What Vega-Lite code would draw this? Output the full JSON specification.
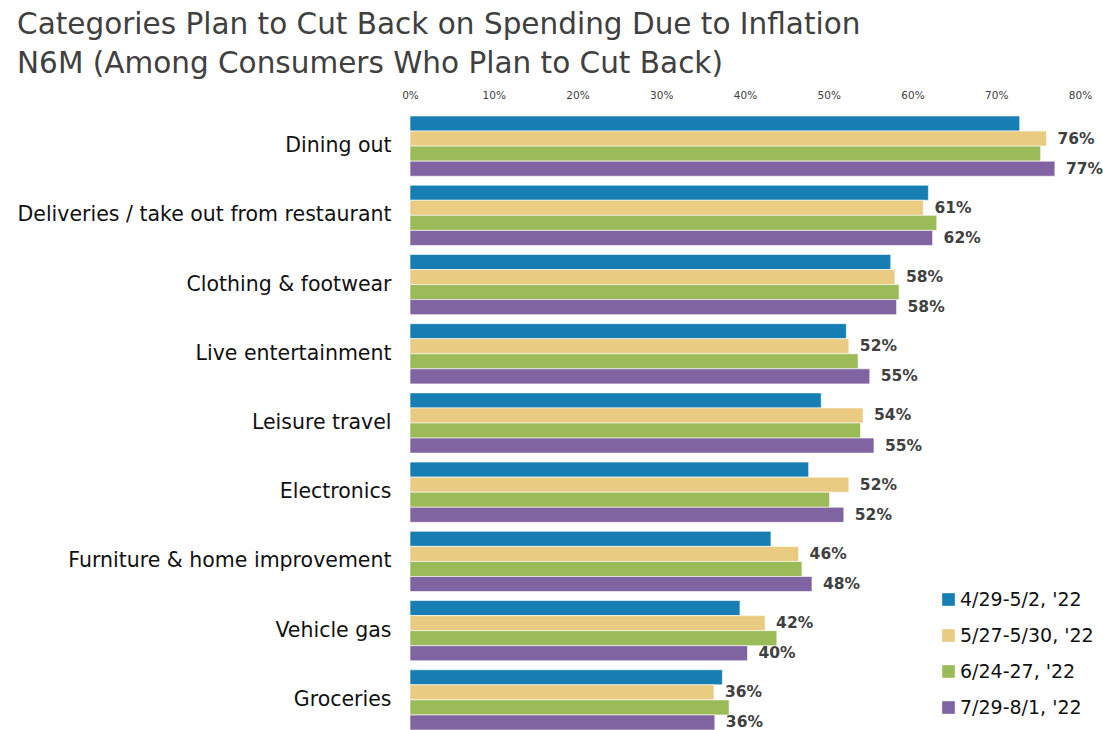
{
  "$schema": "https://vega.github.io/schema/vega-lite/v6.json",
  "autosize": {"type": "none"},
  "width": 670,
  "height": 614,
  "padding": {"top": 116, "left": 410, "right": 23, "bottom": 0},
  "background": "white",
  "config": {"view": {"stroke": null}},
  "title": {
    "text": ["Categories Plan to Cut Back on Spending Due to Inflation", "N6M (Among Consumers Who Plan to Cut Back)"],
    "anchor": "start",
    "frame": "bounds",
    "font": "DejaVu Sans",
    "fontSize": 29.5,
    "fontWeight": "normal",
    "color": "#404040",
    "lineHeight": 38.5,
    "offset": 11
  },
  "data": {
    "values": [
      {"category": "Dining out", "period": "4/29-5/2, '22", "value": 0.728},
      {"category": "Dining out", "period": "5/27-5/30, '22", "value": 0.76},
      {"category": "Dining out", "period": "6/24-27, '22", "value": 0.753},
      {"category": "Dining out", "period": "7/29-8/1, '22", "value": 0.77},
      {"category": "Deliveries / take out from restaurant", "period": "4/29-5/2, '22", "value": 0.619},
      {"category": "Deliveries / take out from restaurant", "period": "5/27-5/30, '22", "value": 0.613},
      {"category": "Deliveries / take out from restaurant", "period": "6/24-27, '22", "value": 0.629},
      {"category": "Deliveries / take out from restaurant", "period": "7/29-8/1, '22", "value": 0.624},
      {"category": "Clothing & footwear", "period": "4/29-5/2, '22", "value": 0.574},
      {"category": "Clothing & footwear", "period": "5/27-5/30, '22", "value": 0.579},
      {"category": "Clothing & footwear", "period": "6/24-27, '22", "value": 0.584},
      {"category": "Clothing & footwear", "period": "7/29-8/1, '22", "value": 0.581},
      {"category": "Live entertainment", "period": "4/29-5/2, '22", "value": 0.521},
      {"category": "Live entertainment", "period": "5/27-5/30, '22", "value": 0.524},
      {"category": "Live entertainment", "period": "6/24-27, '22", "value": 0.535},
      {"category": "Live entertainment", "period": "7/29-8/1, '22", "value": 0.549},
      {"category": "Leisure travel", "period": "4/29-5/2, '22", "value": 0.491},
      {"category": "Leisure travel", "period": "5/27-5/30, '22", "value": 0.541},
      {"category": "Leisure travel", "period": "6/24-27, '22", "value": 0.538},
      {"category": "Leisure travel", "period": "7/29-8/1, '22", "value": 0.554},
      {"category": "Electronics", "period": "4/29-5/2, '22", "value": 0.476},
      {"category": "Electronics", "period": "5/27-5/30, '22", "value": 0.524},
      {"category": "Electronics", "period": "6/24-27, '22", "value": 0.501},
      {"category": "Electronics", "period": "7/29-8/1, '22", "value": 0.518},
      {"category": "Furniture & home improvement", "period": "4/29-5/2, '22", "value": 0.431},
      {"category": "Furniture & home improvement", "period": "5/27-5/30, '22", "value": 0.464},
      {"category": "Furniture & home improvement", "period": "6/24-27, '22", "value": 0.468},
      {"category": "Furniture & home improvement", "period": "7/29-8/1, '22", "value": 0.48},
      {"category": "Vehicle gas", "period": "4/29-5/2, '22", "value": 0.394},
      {"category": "Vehicle gas", "period": "5/27-5/30, '22", "value": 0.424},
      {"category": "Vehicle gas", "period": "6/24-27, '22", "value": 0.438},
      {"category": "Vehicle gas", "period": "7/29-8/1, '22", "value": 0.403},
      {"category": "Groceries", "period": "4/29-5/2, '22", "value": 0.373},
      {"category": "Groceries", "period": "5/27-5/30, '22", "value": 0.363},
      {"category": "Groceries", "period": "6/24-27, '22", "value": 0.381},
      {"category": "Groceries", "period": "7/29-8/1, '22", "value": 0.364}
    ]
  },
  "encoding": {
    "y": {
      "field": "category",
      "type": "nominal",
      "sort": null,
      "title": null,
      "scale": {"paddingInner": 0.13, "paddingOuter": 0},
      "axis": {
        "ticks": false,
        "domain": false,
        "labelFont": "DejaVu Sans",
        "labelFontSize": 20.5,
        "labelColor": "#111111",
        "labelPadding": 19,
        "labelLimit": 500
      }
    },
    "yOffset": {
      "field": "period",
      "type": "nominal",
      "sort": ["4/29-5/2, '22", "5/27-5/30, '22", "6/24-27, '22", "7/29-8/1, '22"]
    },
    "x": {
      "field": "value",
      "type": "quantitative",
      "title": null,
      "scale": {"domain": [0, 0.8], "nice": false},
      "axis": {
        "orient": "top",
        "format": ".0%",
        "values": [0, 0.1, 0.2, 0.3, 0.4, 0.5, 0.6, 0.7, 0.8],
        "grid": false,
        "ticks": false,
        "domain": false,
        "labelFont": "DejaVu Sans",
        "labelFontSize": 10.5,
        "labelColor": "#404040",
        "labelPadding": 16,
        "labelFlush": false
      }
    }
  },
  "layer": [
    {
      "mark": {"type": "bar", "stroke": "white", "strokeWidth": 0.6},
      "encoding": {
        "color": {
          "field": "period",
          "type": "nominal",
          "title": null,
          "scale": {
            "domain": ["4/29-5/2, '22", "5/27-5/30, '22", "6/24-27, '22", "7/29-8/1, '22"],
            "range": ["#177EB3", "#E9CB82", "#9BBB59", "#8064A2"]
          },
          "legend": {
            "orient": "none",
            "legendX": 529,
            "legendY": 474,
            "symbolType": "square",
            "symbolSize": 160,
            "symbolStrokeWidth": 0,
            "labelFont": "DejaVu Sans",
            "labelFontSize": 19,
            "labelColor": "#111111",
            "labelOffset": 2,
            "rowPadding": 16,
            "labelLimit": 300
          }
        }
      }
    },
    {
      "transform": [{"filter": "datum.period === \"5/27-5/30, '22\" || datum.period === \"7/29-8/1, '22\""}],
      "mark": {
        "type": "text",
        "align": "left",
        "baseline": "middle",
        "dx": 11,
        "font": "DejaVu Sans",
        "fontSize": 15.5,
        "fontWeight": "bold",
        "color": "#404040"
      },
      "encoding": {
        "text": {"field": "value", "type": "quantitative", "format": ".0%"}
      }
    }
  ]
}
